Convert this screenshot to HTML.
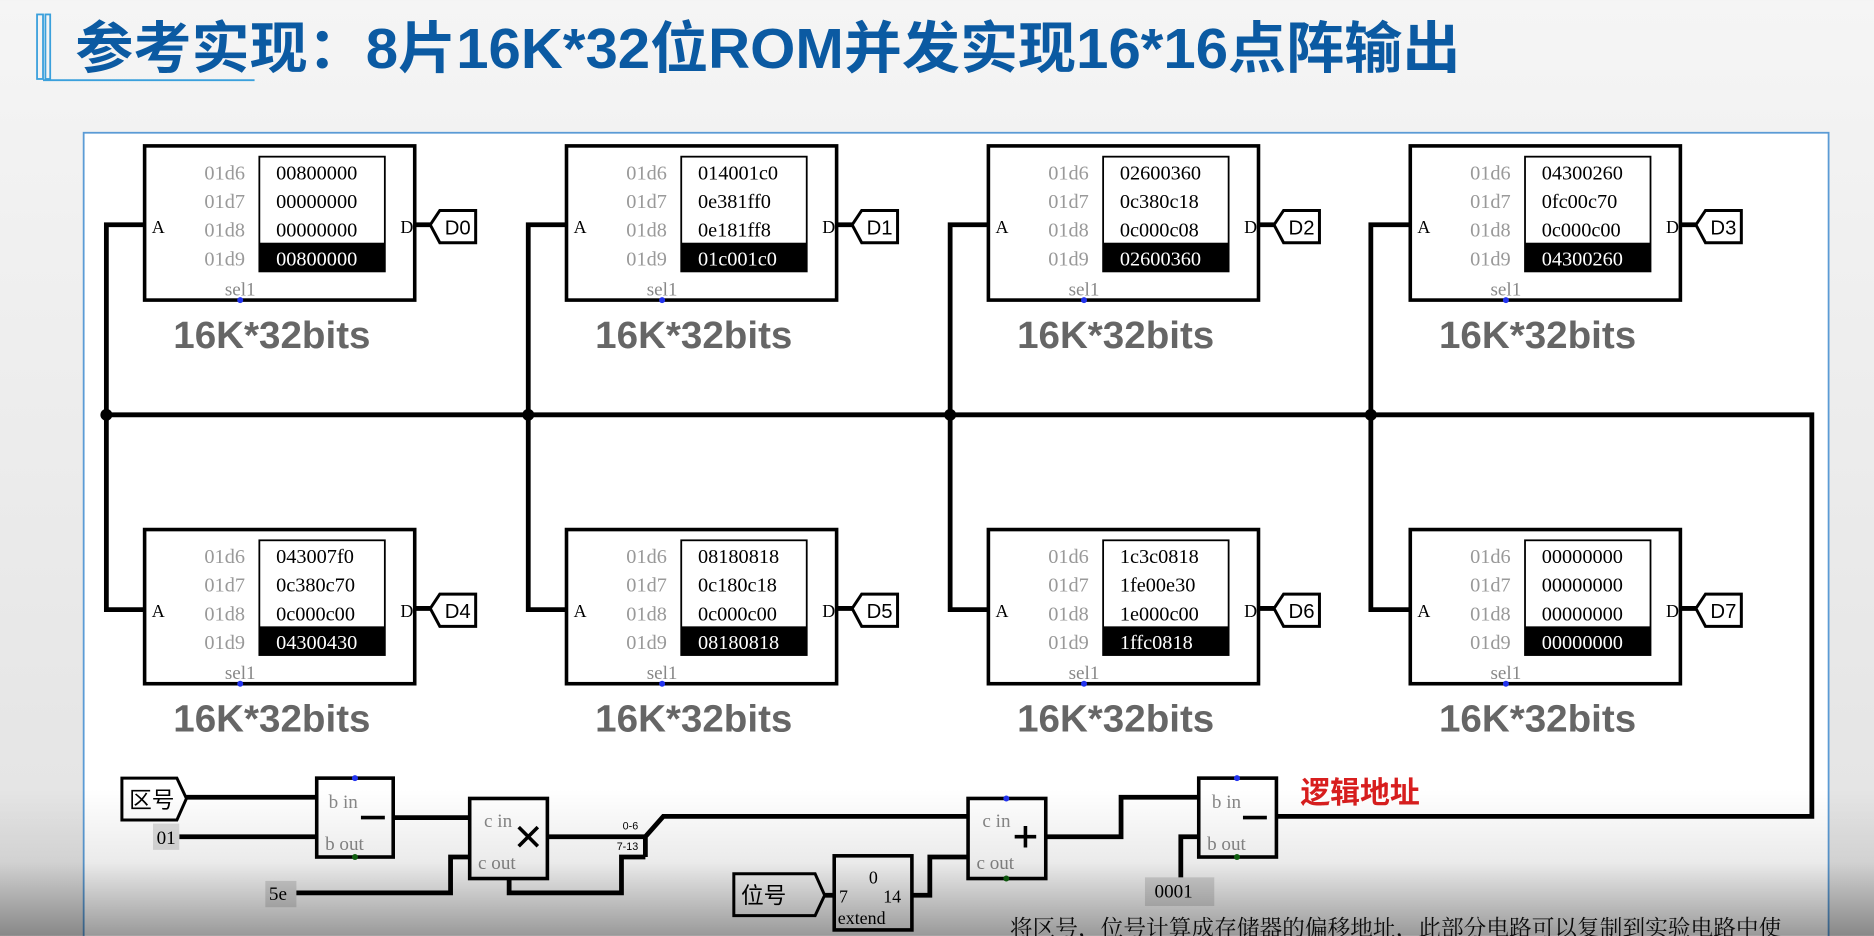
<!DOCTYPE html>
<html><head><meta charset="utf-8"><style>
html,body{margin:0;padding:0;width:1874px;height:936px;overflow:hidden;background:#eeeeee}
svg{display:block}
.lab{font-family:"Liberation Serif",serif;font-size:17px;fill:#999}
.val{font-family:"Liberation Serif",serif;font-size:17px;fill:#000}
.big{font-family:"Liberation Sans",sans-serif;font-weight:bold;font-size:32px;fill:#666}
.tag{font-family:"Liberation Sans",sans-serif;font-size:17px;fill:#000}
.sm{font-family:"Liberation Serif",serif;font-size:16px;fill:#888}
</style></head><body>
<svg width="1874" height="936" viewBox="0 0 1568 783" xmlns="http://www.w3.org/2000/svg">
<defs>
<linearGradient id="bg" x1="0" y1="0" x2="0" y2="1"><stop offset="0" stop-color="#f5f5f5"/><stop offset="1" stop-color="#e2e2e2"/></linearGradient>
<linearGradient id="shade" x1="0" y1="0" x2="0" y2="1"><stop offset="0" stop-color="#000" stop-opacity="0"/><stop offset="0.5" stop-color="#000" stop-opacity="0.08"/><stop offset="1" stop-color="#000" stop-opacity="0.4"/></linearGradient>
<g id="rom">
<rect x="0" y="0" width="226" height="129" fill="#fff" stroke="#000" stroke-width="3"/>
<rect x="96" y="9" width="105" height="96" fill="#fff" stroke="#000" stroke-width="1.5"/>
<rect x="96" y="81" width="105" height="24" fill="#000"/>
<text class="lab" x="84" y="28" text-anchor="end">01d6</text>
<text class="lab" x="84" y="52" text-anchor="end">01d7</text>
<text class="lab" x="84" y="76" text-anchor="end">01d8</text>
<text class="lab" x="84" y="100" text-anchor="end">01d9</text>
<text class="val" x="6" y="73" style="font-size:15px">A</text>
<text class="val" x="214" y="73" style="font-size:15px">D</text>
<text class="sm" x="80" y="125" text-anchor="middle">sel1</text>
<circle cx="80" cy="129" r="2.5" fill="#2233ee"/>
<line x1="226" y1="66" x2="240" y2="66" stroke="#000" stroke-width="4"/>
<polygon points="239,66 247,54 277,54 277,81 247,81" fill="#fff" stroke="#000" stroke-width="2.5"/>
<text class="big" x="24" y="169" textLength="165" lengthAdjust="spacingAndGlyphs">16K*32bits</text>
</g>
</defs>
<rect width="1568" height="783" fill="url(#bg)"/>
<!-- title decoration -->
<rect x="31" y="12" width="5" height="54" fill="none" stroke="#3aa0dc" stroke-width="1.5"/>
<rect x="38" y="12" width="4" height="54" fill="none" stroke="#3aa0dc" stroke-width="1.5"/>
<line x1="36" y1="67" x2="213" y2="67" stroke="#3aa0dc" stroke-width="1.5"/>
<text x="63" y="57" textLength="1159" lengthAdjust="spacingAndGlyphs" style="font-family:'Liberation Sans','Noto Sans CJK SC',sans-serif;font-weight:bold;font-size:47px;fill:#0b5aa2">参考实现：8片16K*32位ROM并发实现16*16点阵输出</text>
<!-- panel -->
<rect x="70" y="111" width="1460" height="700" fill="#fff" stroke="#5b9bd5" stroke-width="1.5"/>
<!-- wires -->
<g stroke="#000" stroke-width="4" fill="none">
<path d="M89 347 H1516 V683 H1068"/>
<path d="M121 188 H89 V510 H121"/>
<path d="M474 188 H442 V510 H474"/>
<path d="M827 188 H795 V510 H827"/>
<path d="M1180 188 H1147 V510 H1180"/>
</g>
<g fill="#000"><circle cx="89" cy="347" r="5"/><circle cx="442" cy="347" r="5"/><circle cx="795" cy="347" r="5"/><circle cx="1147" cy="347" r="5"/></g>
<!-- ROMs -->
<g transform="translate(121,122)"><use href="#rom"/><text class="val" x="110" y="28">00800000</text><text class="val" x="110" y="52">00000000</text><text class="val" x="110" y="76">00000000</text><text class="val" x="110" y="100" style="fill:#fff">00800000</text><text class="tag" x="262" y="74" text-anchor="middle">D0</text></g>
<g transform="translate(474,122)"><use href="#rom"/><text class="val" x="110" y="28">014001c0</text><text class="val" x="110" y="52">0e381ff0</text><text class="val" x="110" y="76">0e181ff8</text><text class="val" x="110" y="100" style="fill:#fff">01c001c0</text><text class="tag" x="262" y="74" text-anchor="middle">D1</text></g>
<g transform="translate(827,122)"><use href="#rom"/><text class="val" x="110" y="28">02600360</text><text class="val" x="110" y="52">0c380c18</text><text class="val" x="110" y="76">0c000c08</text><text class="val" x="110" y="100" style="fill:#fff">02600360</text><text class="tag" x="262" y="74" text-anchor="middle">D2</text></g>
<g transform="translate(1180,122)"><use href="#rom"/><text class="val" x="110" y="28">04300260</text><text class="val" x="110" y="52">0fc00c70</text><text class="val" x="110" y="76">0c000c00</text><text class="val" x="110" y="100" style="fill:#fff">04300260</text><text class="tag" x="262" y="74" text-anchor="middle">D3</text></g>
<g transform="translate(121,443)"><use href="#rom"/><text class="val" x="110" y="28">043007f0</text><text class="val" x="110" y="52">0c380c70</text><text class="val" x="110" y="76">0c000c00</text><text class="val" x="110" y="100" style="fill:#fff">04300430</text><text class="tag" x="262" y="74" text-anchor="middle">D4</text></g>
<g transform="translate(474,443)"><use href="#rom"/><text class="val" x="110" y="28">08180818</text><text class="val" x="110" y="52">0c180c18</text><text class="val" x="110" y="76">0c000c00</text><text class="val" x="110" y="100" style="fill:#fff">08180818</text><text class="tag" x="262" y="74" text-anchor="middle">D5</text></g>
<g transform="translate(827,443)"><use href="#rom"/><text class="val" x="110" y="28">1c3c0818</text><text class="val" x="110" y="52">1fe00e30</text><text class="val" x="110" y="76">1e000c00</text><text class="val" x="110" y="100" style="fill:#fff">1ffc0818</text><text class="tag" x="262" y="74" text-anchor="middle">D6</text></g>
<g transform="translate(1180,443)"><use href="#rom"/><text class="val" x="110" y="28">00000000</text><text class="val" x="110" y="52">00000000</text><text class="val" x="110" y="76">00000000</text><text class="val" x="110" y="100" style="fill:#fff">00000000</text><text class="tag" x="262" y="74" text-anchor="middle">D7</text></g>
<!-- bottom circuit wires -->
<g stroke="#000" stroke-width="4" fill="none">
<path d="M156 667 H265"/>
<path d="M150 700 H265"/>
<path d="M329 684 H393"/>
<path d="M247 747 H377 V717 H393"/>
<path d="M458 700 H540"/>
<path d="M426 735 V747 H520 V717 H540"/>
<path d="M540 717 V700 L555 683 H810"/>
<path d="M690 749 H698"/>
<path d="M763 749 H778 V717 H810"/>
<path d="M875 700 H938 V667 H1003"/>
<path d="M988 736 V700 H1003"/>
</g>
<!-- 区号 tag -->
<polygon points="102,651 148,651 156,668 148,686 102,686" fill="#fff" stroke="#000" stroke-width="2.5"/>
<text x="108" y="676" style="font-family:'Noto Sans CJK SC',sans-serif;font-size:19px">区号</text>
<rect x="128" y="689" width="22" height="22" fill="#ddd"/><text class="val" x="131" y="706" style="font-size:16px">01</text>
<rect x="222" y="737" width="26" height="22" fill="#ddd"/><text class="val" x="225" y="753" style="font-size:16px">5e</text>
<!-- sub1 -->
<rect x="265" y="651" width="64" height="66" fill="#fff" stroke="#000" stroke-width="3"/>
<text class="sm" x="275" y="676">b in</text><text class="sm" x="272" y="711">b out</text>
<line x1="302" y1="684" x2="322" y2="684" stroke="#000" stroke-width="3"/>
<circle cx="297" cy="651" r="2.5" fill="#2233ee"/><circle cx="297" cy="717" r="2.5" fill="#116611"/>
<!-- mul -->
<rect x="393" y="668" width="65" height="67" fill="#fff" stroke="#000" stroke-width="3"/>
<text class="sm" x="405" y="692">c in</text><text class="sm" x="400" y="727">c out</text>
<path d="M434 692 L450 708 M450 692 L434 708" stroke="#000" stroke-width="3"/>
<text x="521" y="694" style="font-family:'Liberation Sans',sans-serif;font-size:9px">0-6</text>
<text x="516" y="711" style="font-family:'Liberation Sans',sans-serif;font-size:9px">7-13</text>
<!-- 位号 + extend -->
<polygon points="614,731 682,731 690,749 682,766 614,766" fill="#fff" stroke="#000" stroke-width="2.5"/>
<text x="620" y="756" style="font-family:'Noto Sans CJK SC',sans-serif;font-size:19px">位号</text>
<rect x="698" y="716" width="65" height="62" fill="#fff" stroke="#000" stroke-width="3"/>
<text class="val" x="727" y="739" style="font-size:15px">0</text>
<text class="val" x="702" y="755" style="font-size:15px">7</text>
<text class="val" x="739" y="755" style="font-size:15px">14</text>
<text class="val" x="701" y="773" style="font-size:15px">extend</text>
<!-- adder -->
<rect x="810" y="668" width="65" height="67" fill="#fff" stroke="#000" stroke-width="3"/>
<text class="sm" x="822" y="692">c in</text><text class="sm" x="817" y="727">c out</text>
<path d="M849 700 H867 M858 691 V709" stroke="#000" stroke-width="3"/>
<circle cx="842" cy="668" r="2.5" fill="#2233ee"/><circle cx="842" cy="735" r="2.5" fill="#116611"/>
<!-- sub2 -->
<rect x="1003" y="651" width="65" height="66" fill="#fff" stroke="#000" stroke-width="3"/>
<text class="sm" x="1014" y="676">b in</text><text class="sm" x="1010" y="711">b out</text>
<line x1="1040" y1="684" x2="1060" y2="684" stroke="#000" stroke-width="3"/>
<circle cx="1035" cy="651" r="2.5" fill="#2233ee"/><circle cx="1035" cy="717" r="2.5" fill="#116611"/>
<rect x="958" y="734" width="58" height="24" fill="#ddd"/><text class="val" x="966" y="751" style="font-size:16px">0001</text>
<text x="1088" y="672" style="font-family:'Noto Sans CJK SC',sans-serif;font-weight:bold;font-size:25px;fill:#d81e1e">逻辑地址</text>
<text x="845" y="783" style="font-family:'Noto Serif CJK SC','Noto Sans CJK SC',serif;font-size:19px;fill:#111">将区号，位号计算成存储器的偏移地址，此部分电路可以复制到实验电路中使</text>
<rect x="0" y="660" width="1568" height="123" fill="url(#shade)"/>
</svg>
</body></html>
